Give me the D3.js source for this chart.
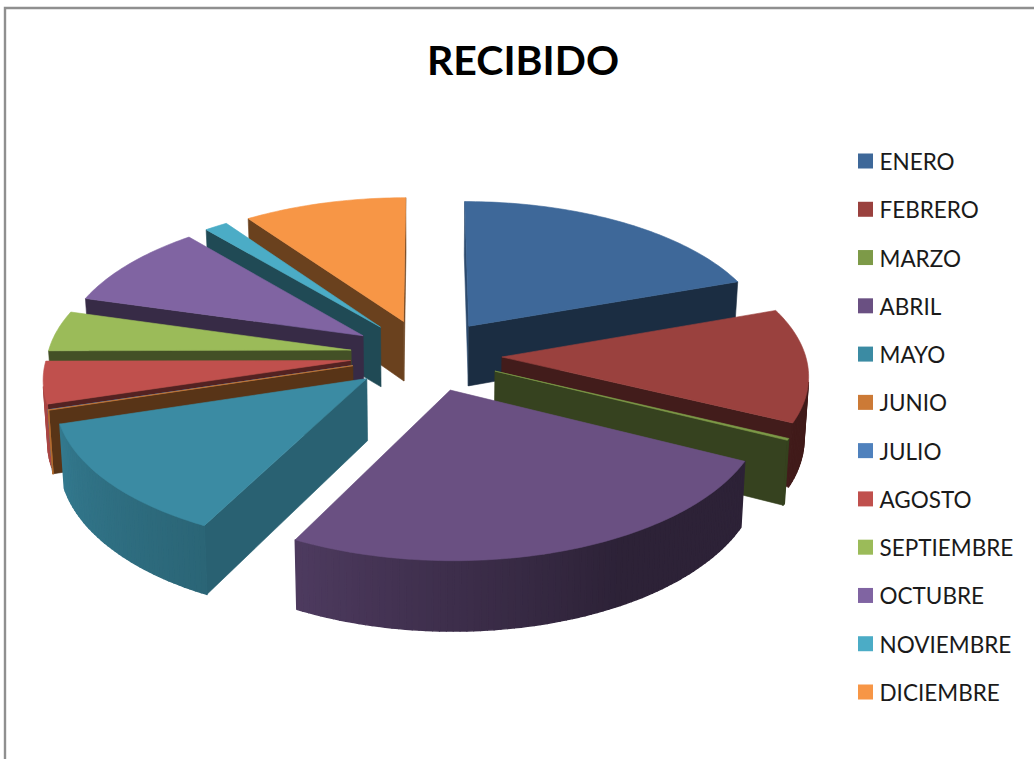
<html>
	<head>
		<meta charset="utf-8">
		<script src="https://d3js.org/d3.v7.min.js"></script>
		<style>
			body { margin: 0; background: #fff; }
			text { font-family: Lato, "Open Sans", sans-serif; fill: #1a1a1a; }
		</style>
	</head>
	<body>
		<svg id="svg" width="1034" height="759"></svg>
	<script>
'use strict';

const months = ['ENERO', 'FEBRERO', 'MARZO', 'ABRIL', 'MAYO', 'JUNIO', 'JULIO', 'AGOSTO', 'SEPTIEMBRE', 'OCTUBRE', 'NOVIEMBRE', 'DICIEMBRE'];
const received = [19.6, 12.6, 0.2, 25.2, 12.7, 0.04, 0.02, 4.64, 4.5, 9.4, 1.4, 9.8];
const colors = ['#3e6899', '#9a413e', '#7d9a48', '#6a5082', '#3b8ba3', '#cc7a36', '#4f81bd', '#c0504d', '#9bbb59', '#8064a2', '#4bacc6', '#f79646'];

// perspective of the tilted pie
const cx = 426;
const cy = 355;
const rx = 303.5;
const ry = 144;
const persp = 0.108;
const thick = 61;
const explode = 0.25;

const svg = d3.select('#svg');

function project(x, z, down) {
	const f = 1 / (1 - persp * z);
	return [
		cx + rx * x * f * (down ? 0.988 : 1),
		cy + ry * z * f + (down ? thick * f : 0)
	];
}

function rim(d, a) {
	return [d.ox + Math.sin(a), d.oz - Math.cos(a)];
}

const slices = d3.pie().sort(null)(received).map((d, i) => {
	const mid = (d.startAngle + d.endAngle) / 2;
	return {
		name: months[i],
		color: colors[i],
		a0: d.startAngle,
		a1: d.endAngle,
		mid,
		ox: explode * Math.sin(mid),
		oz: -explode * Math.cos(mid)
	};
});

// share of the top colour left on each kind of side
const wallShade = d3.scaleLinear().domain([115, 160]).range([0.71, 0.43]).clamp(true);
const sideShade = d3.scaleLinear().domain([150, 180, 205, 252, 270]).range([0.42, 0.58, 0.72, 0.87, 0.9]).clamp(true);

function shaded(color, t) {
	const c = d3.rgb(color);
	return d3.rgb(c.r * t, c.g * t, c.b * t).formatHex();
}

const line = d3.line();

function draw_face(g, pts, fill, width) {
	g.append('path')
		.attr('d', line(pts) + 'Z')
		.attr('fill', fill)
		.attr('stroke', fill)
		.attr('stroke-width', width)
		.attr('stroke-linejoin', 'round');
}

function draw_wall(g, d, a, isStart) {
	const e = rim(d, a);
	const quad = [
		project(d.ox, d.oz, false),
		project(e[0], e[1], false),
		project(e[0], e[1], true),
		project(d.ox, d.oz, true)
	];
	if (!isStart) {
		quad.reverse();
	}
	if (d3.polygonArea(quad) > 0) {
		const deg = a * 180 / Math.PI;
		const normal = isStart ? deg - 90 : deg + 90;
		draw_face(g, quad, shaded(d.color, wallShade(normal)), 0.6);
	}
}

function arc_angles(d) {
	const n = Math.max(2, Math.ceil((d.a1 - d.a0) / 0.02));
	return d3.range(n + 1).map(i => d.a0 + (d.a1 - d.a0) * i / n);
}

// back slices first, front slices paint over them
const ordered = slices.slice().sort((a, b) => d3.ascending(-Math.cos(a.mid), -Math.cos(b.mid)));

const groups = svg.append('g').attr('id', 'pie')
	.selectAll('g')
	.data(ordered)
	.join('g')
	.attr('class', 'slice');

groups.each(function(d) {
	const g = d3.select(this);
	draw_wall(g, d, d.a0, true);
	draw_wall(g, d, d.a1, false);

	const angles = arc_angles(d);
	for (let i = 0; i < angles.length - 1; i++) {
		const p = rim(d, angles[i]);
		const q = rim(d, angles[i + 1]);
		const seg = [
			project(p[0], p[1], false),
			project(q[0], q[1], false),
			project(q[0], q[1], true),
			project(p[0], p[1], true)
		];
		if (d3.polygonArea(seg) > 0) {
			draw_face(g, seg, shaded(d.color, sideShade(angles[i] * 180 / Math.PI)), 1.4);
		}
	}

	const top = [project(d.ox, d.oz, false)].concat(angles.map(a => {
		const p = rim(d, a);
		return project(p[0], p[1], false);
	}));
	draw_face(g, top, d.color, 0.6);
});

// frame, only top and left show in the crop
svg.append('path')
	.attr('d', 'M5,759V8H1034')
	.attr('fill', 'none')
	.attr('stroke', '#8f8f8f')
	.attr('stroke-width', 2.4);

svg.append('text')
	.attr('x', 523)
	.attr('y', 75)
	.attr('text-anchor', 'middle')
	.attr('font-size', 41)
	.attr('font-weight', 700)
	.style('fill', '#000')
	.text('RECIBIDO');

const legendY = d3.scalePoint().domain(months).range([161, 692]);

const legend = svg.append('g').attr('id', 'legend')
	.selectAll('g')
	.data(slices)
	.join('g')
	.attr('transform', d => `translate(858,${legendY(d.name)})`);

legend.append('rect')
	.attr('x', 0)
	.attr('y', -7.5)
	.attr('width', 15)
	.attr('height', 15)
	.attr('fill', d => d.color);

legend.append('text')
	.attr('x', 21.5)
	.attr('y', 9)
	.attr('font-size', 22.5)
	.text(d => d.name);

	</script>
	</body>
</html>
